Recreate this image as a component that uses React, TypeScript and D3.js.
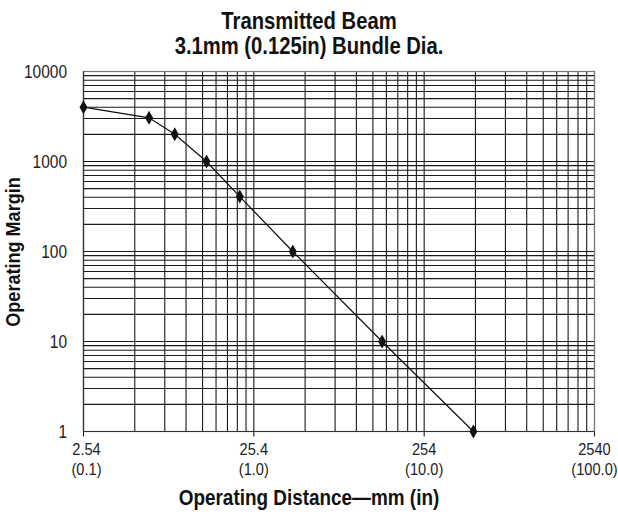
import React from "react";
import * as d3 from "d3";

const distanceMm = [2.54, 6.16, 8.72, 13.4, 21.0, 43.0, 143.8, 494];
const margin = [4010, 3060, 2010, 1000, 408, 100, 10, 1];
const xTickValues = [2.54, 25.4, 254, 2540];
const xTickMm = ["2.54", "25.4", "254", "2540"];
const xTickIn = ["(0.1)", "(1.0)", "(10.0)", "(100.0)"];
const yTickValues = [1, 10, 100, 1000, 10000];
const yTickLabels = ["1", "10", "100", "1000", "10000"];
const titleLines = ["Transmitted Beam", "3.1mm (0.125in) Bundle Dia."];
const xTitle = "Operating Distance\u2014mm (in)";
const yTitle = "Operating Margin";

const W = 618;
const H = 516;
const L = 83.5;
const R = 594.5;
const T = 71.5;
const B = 431.5;
const FONT = "'Liberation Sans', Arial, Helvetica, sans-serif";

function CText(props: {
  x: number;
  y: number;
  size: number;
  bold?: boolean;
  anchor?: string;
  rotate?: number;
  fill?: string;
  sq?: number;
  children: string;
}) {
  const { x, y, size, bold, anchor, rotate, fill, sq, children } = props;
  return (
    <g transform={`translate(${x},${y}) rotate(${rotate || 0}) scale(${sq || 0.86},1)`}>
      <text
        x={0}
        y={0}
        textAnchor={anchor || "middle"}
        fontSize={size}
        fontWeight={bold ? "bold" : "normal"}
        fill={fill || "#222"}
      >
        {children}
      </text>
    </g>
  );
}

export default function App() {
  const x = d3.scaleLog().domain([2.54, 2540]).range([L, R]);
  const y = d3.scaleLog().domain([1, 10000]).range([B, T]);

  const xGrid: number[] = [];
  for (let k = 0; k < 3; k++) {
    for (let m = 1; m <= 9; m++) xGrid.push(2.54 * m * Math.pow(10, k));
  }
  xGrid.push(2540);
  const yGrid: number[] = [];
  for (let k = 0; k < 4; k++) {
    for (let m = 1; m <= 9; m++) yGrid.push(m * Math.pow(10, k));
  }
  yGrid.push(10000);

  const pts = distanceMm.map((d, i) => [x(d), y(margin[i])] as [number, number]);
  const line = d3.line().curve(d3.curveLinear)(pts) || "";
  const diamond = "M0,-7L4,0L0,7L-4,0Z";

  return (
    <svg width={W} height={H} style={{ position: "absolute", left: 0, top: 0, background: "#fff" }} fontFamily={FONT}>
      <rect x={0} y={0} width={W} height={H} fill="#fff" />
      {titleLines.map((t, i) => (
        <CText key={i} x={309} y={29 + i * 25} size={23} sq={0.88} bold fill="#111">
          {t}
        </CText>
      ))}
      <g stroke="#1a1a1a" strokeWidth={1.1} fill="none">
        {xGrid.map((v, i) => (
          <line key={"x" + i} x1={x(v)} x2={x(v)} y1={T} y2={B} />
        ))}
        {yGrid.map((v, i) => (
          <line key={"y" + i} x1={L} x2={R} y1={y(v)} y2={y(v)} />
        ))}
        {xTickValues.map((v, i) => (
          <line key={"t" + i} x1={x(v)} x2={x(v)} y1={B} y2={B + 5} />
        ))}
      </g>
      <rect x={L} y={T} width={R - L} height={B - T} fill="none" stroke="#777" strokeWidth={1.2} />
      <line x1={L} x2={L} y1={T} y2={B} stroke="#333" strokeWidth={1.2} />
      <line x1={L} x2={R} y1={B} y2={B} stroke="#333" strokeWidth={1.2} />
      <path d={line} fill="none" stroke="#111" strokeWidth={1.2} />
      {pts.map((p, i) => (
        <path key={i} d={diamond} transform={`translate(${p[0]},${p[1]})`} fill="#111" />
      ))}
      {yTickValues.map((v, i) => (
        <CText key={i} x={67} y={y(v) + 6} size={18} anchor="end">
          {yTickLabels[i]}
        </CText>
      ))}
      {xTickValues.map((v, i) => (
        <g key={i}>
          <CText x={x(v) + (i === 0 ? 3 : 0)} y={455} size={17}>
            {xTickMm[i]}
          </CText>
          <CText x={x(v) + (i === 0 ? 3 : 0)} y={475} size={17}>
            {xTickIn[i]}
          </CText>
        </g>
      ))}
      <CText x={309} y={505} size={22} bold fill="#111">
        {xTitle}
      </CText>
      <CText x={20} y={252} size={21} bold rotate={-90} fill="#111">
        {yTitle}
      </CText>
    </svg>
  );
}
